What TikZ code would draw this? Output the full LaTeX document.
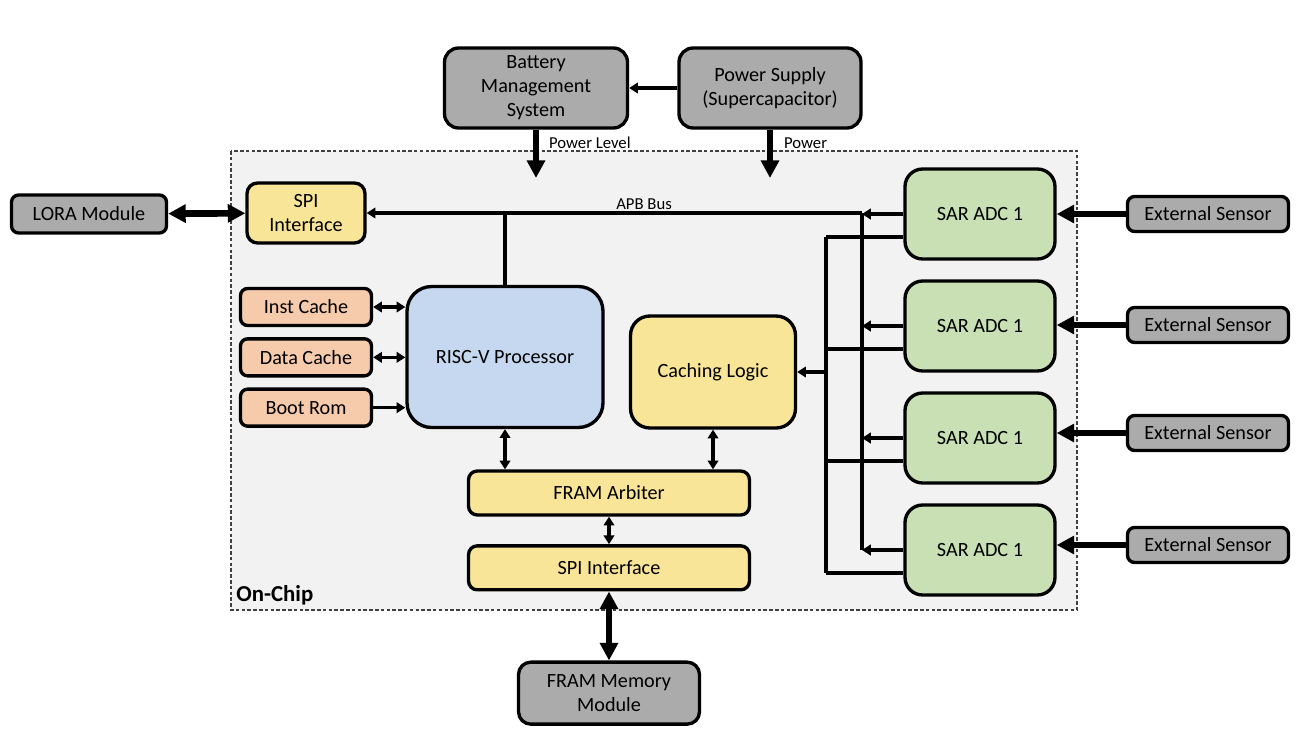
\documentclass[tikz,border=0pt]{standalone}
\usepackage{fontspec}
\setmainfont{Carlito}
\usetikzlibrary{positioning,arrows.meta}

\definecolor{chipbg}{HTML}{F2F2F2}
\definecolor{extgray}{HTML}{ABABAB}
\definecolor{ifyellow}{HTML}{F9E597}
\definecolor{cpublue}{HTML}{C5D8F0}
\definecolor{adcgreen}{HTML}{C9E0B5}
\definecolor{memorange}{HTML}{F6CBAB}

\begin{document}
\begin{tikzpicture}[x=0.02cm,y=-0.02cm,
    font=\fontsize{11.5}{13.6}\selectfont,
    blk/.style={draw,line width=1.9pt,align=center,inner sep=1pt},
    extbox/.style={blk,fill=extgray},
    ifbox/.style={blk,fill=ifyellow},
    cachebox/.style={blk,fill=memorange,rounded corners=4pt,minimum width=2.62cm,minimum height=0.74cm},
    adcbox/.style={blk,fill=adcgreen,rounded corners=10pt,minimum width=3cm,minimum height=1.8cm},
    sensorbox/.style={extbox,rounded corners=4pt,minimum width=3.22cm,minimum height=0.7cm},
    wire/.style={line width=1.8pt},
    arr/.style={wire,-{Triangle[length=5pt,width=6pt]}},
    darr/.style={wire,{Triangle[length=5pt,width=6pt]}-{Triangle[length=5pt,width=6pt]}},
    fatarr/.style={line width=3.8pt,-{Triangle[length=10pt,width=10pt]}},
    fatdarr/.style={line width=3.8pt,{Triangle[length=10pt,width=10pt]}-{Triangle[length=10pt,width=10pt]}},
    smalllbl/.style={font=\fontsize{9.5}{11}\selectfont,inner sep=1pt}
  ]
  \useasboundingbox (0,0) rectangle (1302,734);

  % on-chip region
  \draw[fill=chipbg,draw=black!75,line width=0.6pt,dash pattern=on 2pt off 1.3pt] (231,151) rectangle (1077,610);
  \node[anchor=south west,font=\fontsize{13}{15}\selectfont\bfseries,inner sep=0pt] (onchip) at (236,605) {On-Chip};

  % power
  \node[extbox,rounded corners=8pt,minimum width=3.66cm,minimum height=1.6cm] (bms) at (536,88) {Battery\\Management\\System};
  \node[extbox,rounded corners=8pt,minimum width=3.64cm,minimum height=1.6cm] (psu) at (770,88) {Power Supply\\(Supercapacitor)};
  \coordinate (plvl) at (536,178);
  \coordinate (pwr) at (770,178);
  \draw[arr] (psu.west) -- (bms.east);
  \draw[fatarr] (bms.south) -- (plvl);
  \draw[fatarr] (psu.south) -- (pwr);
  \node[smalllbl,anchor=west] (plvllbl) at (547,143) {Power Level};
  \node[smalllbl,anchor=west] (pwrlbl) at (782,143) {Power};

  % radio side
  \node[extbox,rounded corners=4pt,minimum width=3.1cm,minimum height=0.76cm] (lora) at (89,214) {LORA Module};
  \node[ifbox,rounded corners=6pt,minimum width=2.36cm,minimum height=1.2cm] (spitop) at (306,213) {SPI\\Interface};
  \draw[fatdarr] (lora) -- (spitop);

  % processor and memories
  \node[blk,fill=cpublue,rounded corners=14pt,minimum width=3.92cm,minimum height=2.82cm] (cpu) at (505,357) {RISC-V Processor};
  \node[cachebox] (icache) at (306,307) {Inst Cache};
  \node[cachebox,below=0.2cm of icache] (dcache) {Data Cache};
  \node[cachebox,below=0.2cm of dcache] (bootrom) {Boot Rom};
  \draw[darr] (icache.east) -- (icache.east -| cpu.west);
  \draw[darr] (dcache.east) -- (dcache.east -| cpu.west);
  \draw[arr] (bootrom.east) -- (bootrom.east -| cpu.west);

  \node[ifbox,rounded corners=11pt,minimum width=3.3cm,minimum height=2.24cm] (cachelogic) at (713,372) {Caching Logic};
  \node[ifbox,rounded corners=5pt,minimum width=5.62cm,minimum height=0.88cm] (arbiter) at (609,493) {FRAM Arbiter};
  \node[ifbox,rounded corners=5pt,minimum width=5.62cm,minimum height=0.88cm,below=0.55cm of arbiter] (spibot) {SPI Interface};
  \node[extbox,rounded corners=7pt,minimum width=3.62cm,minimum height=1.24cm,below=1.38cm of spibot] (fram) {FRAM Memory\\Module};
  \draw[darr] (cpu.south) -- (cpu.south |- arbiter.north);
  \draw[darr] (cachelogic.south) -- (cachelogic.south |- arbiter.north);
  \draw[darr] (arbiter) -- (spibot);
  \draw[fatdarr] (spibot) -- (fram);

  % APB bus
  \coordinate (busend) at (862,213);
  \draw[arr] (busend) -- (spitop.east) node[pos=0.44,above,smalllbl] (apblbl) {APB Bus};
  \draw[wire] (cpu.north) -- (cpu.north |- busend);

  % ADCs and sensors
  \foreach \i/\ya/\ys in {1/214/214,2/326/325,3/438/433,4/550/545} {
    \node[adcbox] (adc\i) at (980,\ya) {SAR ADC 1};
    \node[sensorbox] (sensor\i) at (1208,\ys) {External Sensor};
    \draw[fatarr] (sensor\i.west) -- (sensor\i.west -| adc\i.east);
    \draw[arr] (adc\i.west) -- (adc\i.west -| busend);
    \coordinate (tap\i) at ([yshift=-0.46cm]adc\i.west);
    \draw[wire] (tap\i) -- (826,0 |- tap\i);
  }
  \draw[wire] (busend) -- (busend |- adc4.west);
  \draw[wire] (826,0 |- tap1) -- (826,0 |- tap4);
  \coordinate (cltap) at (826,372);
  \draw[arr] (cltap) -- (cachelogic.east);
\end{tikzpicture}
\end{document}
